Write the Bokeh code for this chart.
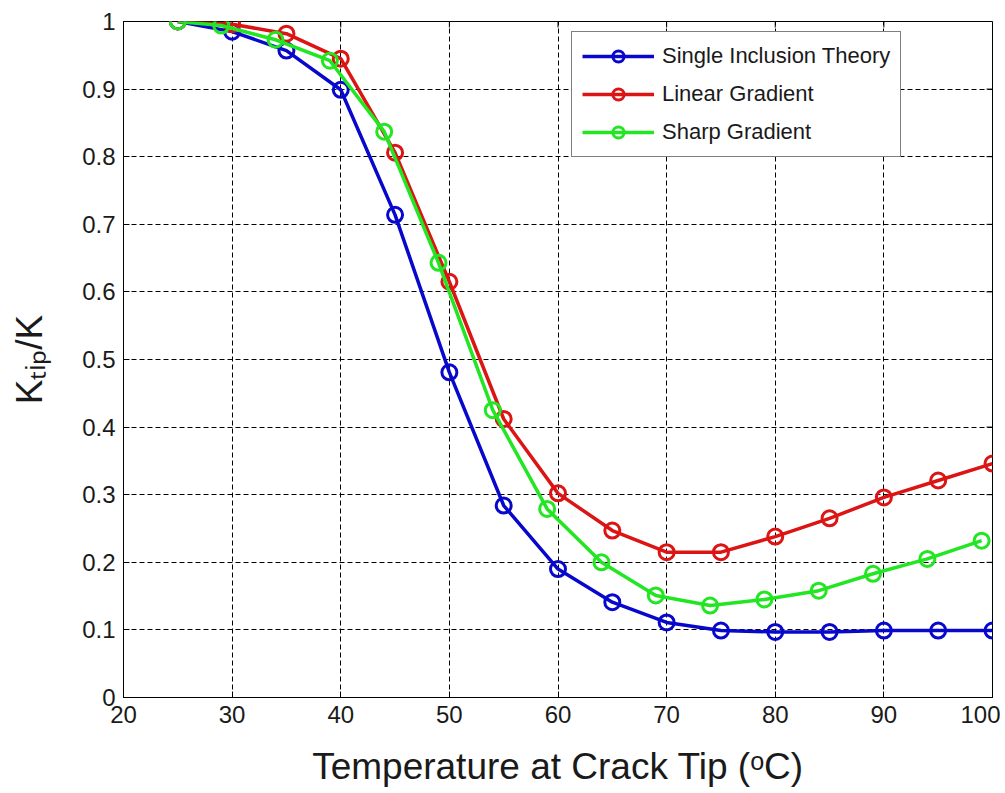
from bokeh.plotting import figure
from bokeh.models import ColumnDataSource, FixedTicker, Legend, LegendItem, Range1d
from bokeh.embed import file_html
from bokeh.resources import INLINE

# ---- data ----
temp_uniform = [25, 30, 35, 40, 45, 50, 55, 60, 65, 70, 75, 80, 85, 90, 95, 100]
single_inclusion = [1.0, 0.985, 0.957, 0.899, 0.714, 0.481, 0.284, 0.190, 0.141,
                    0.111, 0.099, 0.097, 0.097, 0.099, 0.099, 0.099]
linear_gradient = [1.0, 0.996, 0.982, 0.945, 0.806, 0.615, 0.412, 0.302, 0.247,
                   0.215, 0.215, 0.238, 0.265, 0.296, 0.321, 0.346]
temp_sharp = [25, 29, 34, 39, 44, 49, 54, 59, 64, 69, 74, 79, 84, 89, 94, 99]
sharp_gradient = [1.0, 0.994, 0.973, 0.942, 0.837, 0.643, 0.425, 0.279, 0.200,
                  0.151, 0.136, 0.145, 0.158, 0.183, 0.205, 0.232]

series_names = ["Single Inclusion Theory", "Linear Gradient", "Sharp Gradient"]
x_ticks = [20, 30, 40, 50, 60, 70, 80, 90, 100]
x_tick_labels = ["20", "30", "40", "50", "60", "70", "80", "90", "100"]
y_ticks = [0, 0.1, 0.2, 0.3, 0.4, 0.5, 0.6, 0.7, 0.8, 0.9, 1.0]
y_tick_labels = ["0", "0.1", "0.2", "0.3", "0.4", "0.5", "0.6", "0.7", "0.8", "0.9", "1"]
x_title = "Temperature at Crack Tip (\u1d52C)"
y_title = "K\u209c\u1d62\u209a/K"

FONT = "Liberation Sans"
W, H = 1000, 790
BL, BR, BT, BB = 123, 8, 21, 93
X0, X1, Y0, Y1 = 20, 100, 0, 1
FW, FH = W - BL - BR, H - BT - BB

p = figure(width=W, height=H, output_backend="svg", toolbar_location=None,
           x_range=Range1d(X0, X1), y_range=Range1d(Y0, Y1),
           min_border_left=BL, min_border_right=BR, min_border_top=BT, min_border_bottom=BB)
p.background_fill_color = "white"
p.border_fill_color = "white"
p.outline_line_color = "black"
p.outline_line_width = 1

for ax, ticks, labels in ((p.xaxis[0], x_ticks, x_tick_labels), (p.yaxis[0], y_ticks, y_tick_labels)):
    ax.ticker = FixedTicker(ticks=ticks)
    ax.major_label_overrides = {t: l for t, l in zip(ticks, labels)}
    ax.major_label_text_font = FONT
    ax.major_label_text_font_size = "24px"
    ax.major_label_text_color = "#1a1a1a"
    ax.major_tick_in = 6
    ax.major_tick_out = 0
    ax.minor_tick_line_color = None
    ax.axis_line_color = "black"
    ax.major_tick_line_color = "black"
    ax.major_label_standoff = 8
    ax.axis_label_text_font = FONT
    ax.axis_label_text_font_size = "37px"
    ax.axis_label_text_font_style = "normal"
    ax.axis_label_text_color = "#1a1a1a"

p.xaxis[0].axis_label = x_title
p.xaxis[0].axis_label_standoff = 20
p.yaxis[0].axis_label = y_title
p.yaxis[0].axis_label_standoff = 29

p.grid.grid_line_color = "black"
p.grid.grid_line_dash = "5 3"
p.grid.grid_line_width = 1
p.xgrid.ticker = FixedTicker(ticks=x_ticks)
p.ygrid.ticker = FixedTicker(ticks=y_ticks)

# inward ticks on the top and right edges (mirroring the axis ticks)
tick_dx = 6 * (X1 - X0) / FW
tick_dy = 6 * (Y1 - Y0) / FH
p.segment(x0=x_ticks, y0=[Y1] * len(x_ticks), x1=x_ticks, y1=[Y1 - tick_dy] * len(x_ticks),
          line_color="black", line_width=1)
p.segment(x0=[X1] * len(y_ticks), y0=y_ticks, x1=[X1 - tick_dx] * len(y_ticks), y1=y_ticks,
          line_color="black", line_width=1)

colors = ["#0808cc", "#dd1414", "#22e622"]
xs = [temp_uniform, temp_uniform, temp_sharp]
ys = [single_inclusion, linear_gradient, sharp_gradient]
items = []
for name, c, x, y in zip(series_names, colors, xs, ys):
    src = ColumnDataSource(dict(x=x, y=y))
    l = p.line("x", "y", source=src, line_color=c, line_width=3.5)
    s = p.scatter("x", "y", source=src, marker="circle", size=15, line_color=c,
                  line_width=3, fill_color=None)
    items.append(LegendItem(label=name, renderers=[l, s]))

legend = Legend(items=items, location=(448, 540), glyph_width=72, glyph_height=28,
                label_height=28, spacing=10, padding=10, margin=0, label_standoff=8,
                label_text_font=FONT, label_text_font_size="22px",
                label_text_color="#1a1a1a", border_line_color="black",
                border_line_width=1, background_fill_color="white",
                background_fill_alpha=1.0)
p.add_layout(legend, "center")

open("out.html", "w").write(file_html(p, INLINE))
